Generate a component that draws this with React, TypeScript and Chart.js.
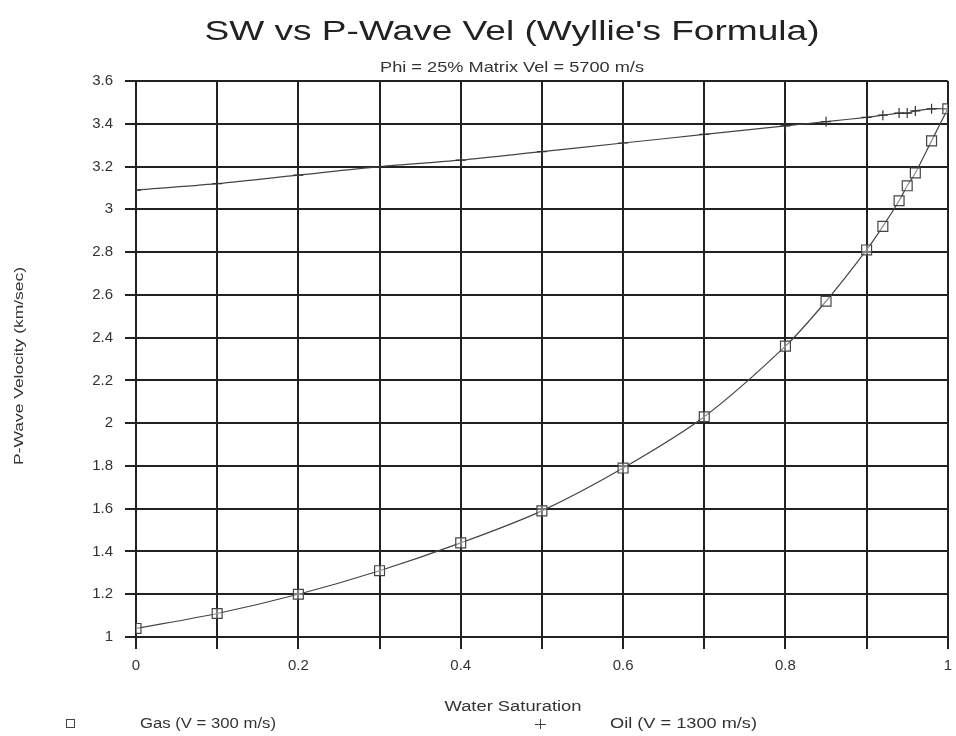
import React, { useEffect, useRef } from "react";
import { Chart, registerables } from "chart.js";

Chart.register(...registerables);

const waterSat = [0, 0.1, 0.2, 0.3, 0.4, 0.5, 0.6, 0.7, 0.8, 0.85, 0.9, 0.92, 0.94, 0.95, 0.96, 0.98, 1.0];
const gasVel = [1.04, 1.11, 1.2, 1.31, 1.44, 1.59, 1.79, 2.03, 2.36, 2.57, 2.81, 2.92, 3.04, 3.11, 3.17, 3.32, 3.47];
const oilVel = [3.09, 3.12, 3.16, 3.2, 3.23, 3.27, 3.31, 3.35, 3.39, 3.41, 3.43, 3.44, 3.45, 3.45, 3.46, 3.47, 3.47];
const xLabelTicks = [0, 0.2, 0.4, 0.6, 0.8, 1];

const titleText = "SW vs P-Wave Vel (Wyllie's Formula)";
const subtitleText = "Phi = 25% Matrix Vel = 5700 m/s";
const xTitle = "Water Saturation";
const yTitle = "P-Wave Velocity (km/sec)";
const gasLabel = "Gas (V = 300 m/s)";
const oilLabel = "Oil (V = 1300 m/s)";

const FONT = "'Liberation Sans', Arial, sans-serif";
const INK = "#222";
const TEXT = "#333";

function drawScaled(
  ctx: CanvasRenderingContext2D,
  text: string,
  x: number,
  y: number,
  size: number,
  width: number,
  align: CanvasTextAlign
) {
  ctx.font = `${size}px ${FONT}`;
  const w = ctx.measureText(text).width;
  const sx = width / w;
  ctx.save();
  ctx.translate(x, y);
  ctx.scale(sx, 1);
  ctx.textAlign = align;
  ctx.textBaseline = "middle";
  ctx.fillText(text, 0, 0);
  ctx.restore();
}

const textPlugin = {
  id: "texts",
  afterDraw(chart: any) {
    const ctx = chart.ctx as CanvasRenderingContext2D;
    const cx = 512;
    ctx.save();
    ctx.fillStyle = INK;
    drawScaled(ctx, titleText, cx, 33, 27, 615, "center");
    ctx.fillStyle = TEXT;
    drawScaled(ctx, subtitleText, cx, 68, 15, 264, "center");
    drawScaled(ctx, xTitle, 513, 707, 14, 137, "center");
    ctx.save();
    ctx.translate(19, 366);
    ctx.rotate(-Math.PI / 2);
    drawScaled(ctx, yTitle, 0, 0, 13, 198, "center");
    ctx.restore();
    // legend
    const ly = 724;
    ctx.strokeStyle = "#444";
    ctx.lineWidth = 1;
    ctx.strokeRect(66.5, ly - 4.5, 8, 8);
    ctx.beginPath();
    ctx.moveTo(540.5, ly - 5);
    ctx.lineTo(540.5, ly + 5);
    ctx.moveTo(535, ly + 0.5);
    ctx.lineTo(546, ly + 0.5);
    ctx.stroke();
    drawScaled(ctx, gasLabel, 140, ly, 14, 136, "left");
    drawScaled(ctx, oilLabel, 610, ly, 14, 147, "left");
    ctx.restore();
  },
};

const fmt = (v: number) => String(Number(Number(v).toFixed(1)));

export default function App() {
  const ref = useRef<HTMLCanvasElement>(null);
  useEffect(() => {
    const chart = new Chart(ref.current!, {
      type: "scatter",
      data: {
        datasets: [
          {
            label: gasLabel,
            data: waterSat.map((x, i) => ({ x, y: gasVel[i] })),
            showLine: true,
            borderColor: "#444",
            borderWidth: 1.2,
            pointStyle: "rect",
            pointRadius: 7,
            pointBackgroundColor: "rgba(255,255,255,0.4)",
            pointBorderColor: "#444",
            pointBorderWidth: 1.2,
            tension: 0.3,
          },
          {
            label: oilLabel,
            data: waterSat.map((x, i) => ({ x, y: oilVel[i] })),
            showLine: true,
            borderColor: "#444",
            borderWidth: 1.2,
            pointStyle: "cross",
            pointRadius: 5,
            pointBorderColor: "#333",
            pointBorderWidth: 1.2,
            tension: 0.3,
          },
        ],
      },
      options: {
        animation: false,
        responsive: true,
        maintainAspectRatio: false,
        layout: { padding: { left: 0, right: 0, top: 81, bottom: 0 } },
        plugins: { legend: { display: false }, tooltip: { enabled: false } },
        scales: {
          x: {
            type: "linear",
            min: 0,
            max: 1,
            afterFit: (s: any) => {
              s.height = 99;
              s.paddingRight = 0;
              s.paddingLeft = 0;
            },
            ticks: {
              stepSize: 0.1,
              autoSkip: false,
              maxRotation: 0,
              color: TEXT,
              font: { family: FONT, size: 15 },
              padding: 8,
              callback: (v: any) => {
                const f = Number(Number(v).toFixed(1));
                return xLabelTicks.includes(f) ? fmt(v) : "";
              },
            },
            grid: { color: INK, lineWidth: 2, tickLength: 12 },
            border: { color: INK, width: 2 },
          },
          y: {
            type: "linear",
            min: 1,
            max: 3.6,
            afterFit: (s: any) => {
              s.width = 136;
            },
            ticks: {
              stepSize: 0.2,
              color: TEXT,
              font: { family: FONT, size: 15 },
              padding: 12,
              callback: (v: any) => fmt(v),
            },
            grid: { color: INK, lineWidth: 2, tickLength: 11 },
            border: { color: INK, width: 2 },
          },
        },
      },
      plugins: [textPlugin],
    });
    return () => chart.destroy();
  }, []);
  return (
    <div style={{ position: "absolute", left: 0, top: 0, width: 956, height: 736, background: "#fff" }}>
      <canvas ref={ref} />
    </div>
  );
}
